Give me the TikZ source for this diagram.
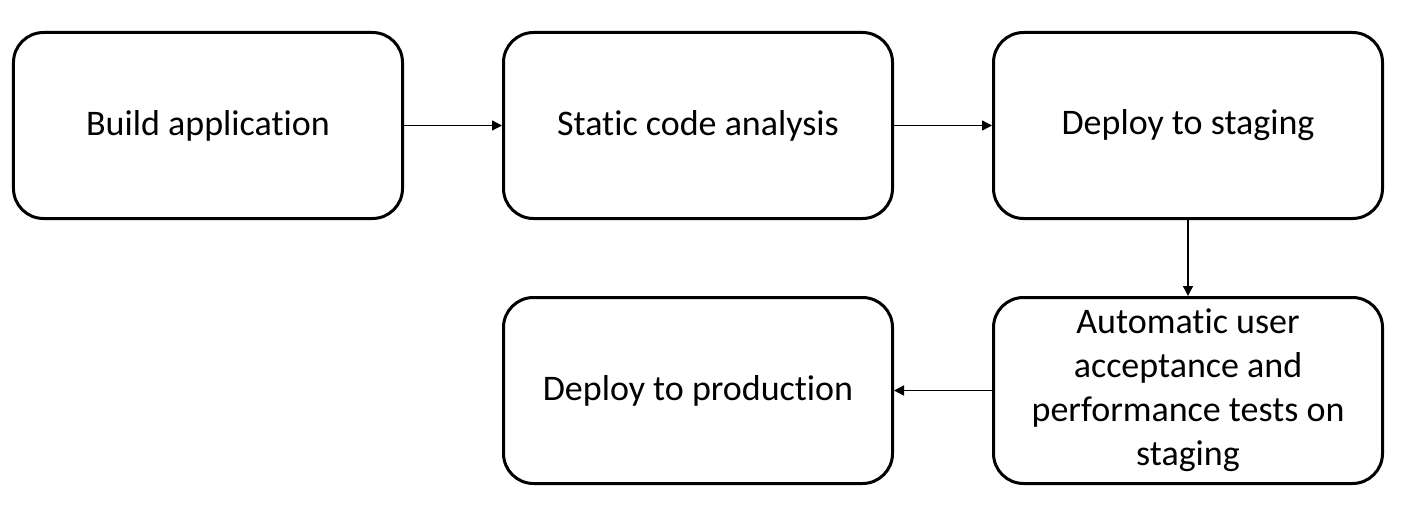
\documentclass[tikz,border=0pt]{standalone}
\usepackage{fontspec}
\setmainfont{Carlito}[Ligatures=NoCommon]
\usepackage{tikz}
\usetikzlibrary{positioning}
\usetikzlibrary{arrows.meta}

\begin{document}
\begin{tikzpicture}[
                          stagenode/.style={rectangle, rounded corners=15pt, draw, line width=1.5pt, minimum width=194.5pt, minimum height=93pt, align=center, font=\fontsize{18pt}{22pt}\selectfont},
                          flow/.style={->, line width=0.7pt},
                          >={Triangle[length=5pt,width=5pt]},
                          node distance=38pt and 49pt,
                      ]
                      \useasboundingbox (-104pt,62.75pt) rectangle (609.5pt,-196.75pt);
                      %Nodes
                      \node[stagenode]      (build)                            {Build application};
                      \node[stagenode]      (static)     [right=of build]      {Static code analysis};
                      \node[stagenode]      (staging)    [right=of static]     {Deploy to staging};
                      \node[stagenode]      (accept)     [below=of staging]    {Automatic user\\acceptance and\\performance tests on\\staging};
                      \node[stagenode]      (prod)       [left=of accept]      {Deploy to production};

                      %Lines
                      \draw[flow] (build.east) -- (static.west);
                      \draw[flow] (static.east) -- (staging.west);
                      \draw[flow] (staging.south) -- (accept.north);
                      \draw[flow] (accept.west) -- (prod.east);
                  \end{tikzpicture}
\end{document}
